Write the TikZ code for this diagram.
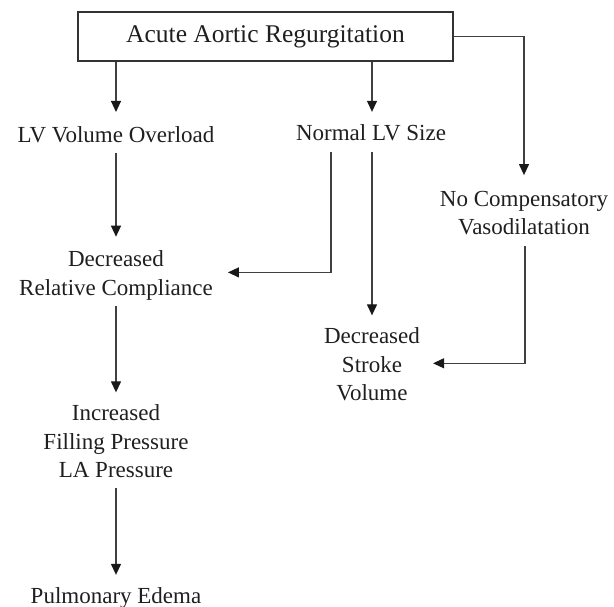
\documentclass[tikz,border=0pt]{standalone}
\usepackage{fontspec}
\setmainfont{Liberation Serif}
\usetikzlibrary{arrows.meta}
\begin{document}
\begin{tikzpicture}[x=1pt,y=-1pt,
  lbl/.style={inner sep=0pt, align=center, text=black!88,
    font=\fontsize{23}{28.5}\selectfont},
  topbox/.style={draw=black!80, line width=1.2pt, inner sep=0pt,
    minimum width=375pt, minimum height=49pt, text=black!88,
    font=\fontsize{25.5}{30}\selectfont},
  link/.style={draw=black!75, line width=1.2pt},
  arr/.style={link, -{Triangle[length=11pt,width=10pt,color=black!90]}}]
\useasboundingbox (0,0) rectangle (614,607);
\node[topbox] (box) at (265.5,36.5) {Acute Aortic Regurgitation};
\node[lbl] (lvo) at (116,136.4) {\strut LV Volume Overload};
\node[lbl] (nls) at (371,135.3) {\strut Normal LV Size};
\node[lbl] (nc) at (524,214.8) {\strut No Compensatory\\\strut Vasodilatation};
\node[lbl] (drc) at (116,275.4) {\strut Decreased\\\strut Relative Compliance};
\node[lbl] (dsv) at (372,366.3) {\strut Decreased\\\strut Stroke\\\strut Volume};
\node[lbl] (ifp) at (116,443.3) {\strut Increased\\\strut Filling Pressure\\\strut LA Pressure};
\node[lbl] (pe) at (116,597.3) {\strut Pulmonary Edema};
\draw[arr, shorten >=10pt] (box.south -| lvo.north) -- (lvo.north);
\draw[arr, shorten >=9pt] ([xshift=1pt]box.south -| nls.north) -- ([xshift=1pt]nls.north);
\draw[arr, shorten >=11pt] (box.east) -| (nc.north);
\draw[arr, shorten <=2pt, shorten >=10pt] (lvo.south) -- (drc.north);
\draw[arr, shorten <=2pt, shorten >=5pt] ([xshift=-40pt]nls.south) |- ([yshift=3pt,xshift=10pt]drc.east);
\draw[arr, shorten <=2pt, shorten >=8pt] ([xshift=1pt]nls.south) -- ([xshift=0pt]dsv.north);
\draw[arr, shorten <=3pt, shorten >=13pt] ([xshift=1pt]nc.south) |- ([yshift=3pt]dsv.east);
\draw[arr, shorten <=2pt, shorten >=8pt] (drc.south) -- (ifp.north);
\draw[arr, shorten <=2pt, shorten >=8pt] (ifp.south) -- (pe.north);
\end{tikzpicture}
\end{document}
